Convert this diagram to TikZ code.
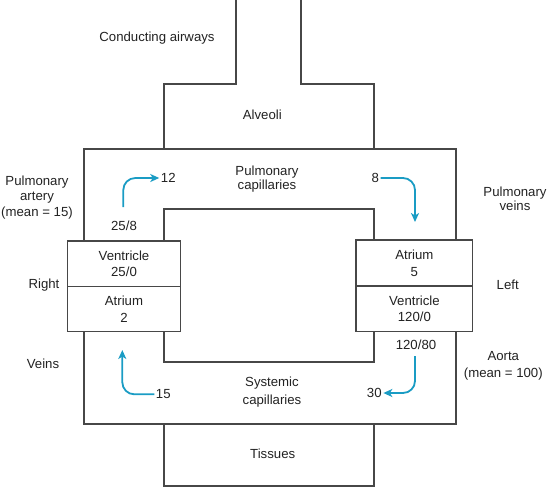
\documentclass[tikz,border=0pt]{standalone}
\usepackage{fontspec}
\setmainfont{Liberation Sans}
\usetikzlibrary{arrows.meta}
\definecolor{ln}{HTML}{474747}
\definecolor{flow}{HTML}{1A9CC4}
\definecolor{txt}{HTML}{222222}
\begin{document}
\begin{tikzpicture}[x=1pt,y=-1pt,
  wall/.style={draw=ln,line width=1.4pt},
  lbl/.style={font=\fontsize{13.2}{15.5}\selectfont,align=center,inner sep=0pt,text=txt},
  tight/.style={font=\fontsize{13.2}{13.8}\selectfont},
  wide/.style={font=\fontsize{13.2}{17.2}\selectfont},
  chamber/.style={draw=ln,line width=1.4pt,fill=white,inner sep=0pt,align=center,
    text=txt,font=\fontsize{13.2}{16.6}\selectfont,minimum height=45.5pt},
  flowarrow/.style={draw=flow,line width=1.8pt,rounded corners=12pt,
    -{Stealth[length=9pt,width=8pt,inset=2.5pt]}}
]
\useasboundingbox (0,0) rectangle (548,488);

% airways, alveoli, circulation loops, tissues
\draw[wall] (236,0) -- (236,84) -- (164,84) -- (164,149);
\draw[wall] (301,0) -- (301,84) -- (374,84) -- (374,149);
\draw[wall] (84,149) rectangle (456,424);
\draw[wall] (164,209) rectangle (374,362);
\draw[wall] (164,424) rectangle (374,486);

% heart chambers
\node[chamber,minimum width=113.4pt] (rvent) at (124,263.8) {Ventricle\\25/0};
\node[chamber,minimum width=113.4pt,minimum height=45pt] (ratr) at (124,309.1) {Atrium\\2};
\node[chamber,minimum width=116.7pt,minimum height=46pt] (latr) at (414.4,263) {Atrium\\5};
\node[chamber,minimum width=116.7pt] (lvent) at (414.4,308.9) {Ventricle\\120/0};

% labels
\node[lbl] (airways) at (157,38) {Conducting airways};
\node[lbl] (alveoli) at (262.3,115) {Alveoli};
\node[lbl,tight] (pcap) at (267,179) {Pulmonary\\capillaries};
\node[lbl] (partery) at (37,197.5) {Pulmonary\\artery\\(mean = 15)};
\node[lbl,tight] (pveins) at (515,198.7) {Pulmonary\\veins};
\node[lbl] (right) at (44,285) {Right};
\node[lbl] (left) at (507.7,284.5) {Left};
\node[lbl] (veins) at (43,363.3) {Veins};
\node[lbl,wide] (aorta) at (503.3,365.5) {Aorta\\(mean = 100)};
\node[lbl,wide] (scap) at (272,392) {Systemic\\capillaries};
\node[lbl] (tissues) at (272.7,453.3) {Tissues};

% pressure values
\node[lbl] (p258) at (124,226) {25/8};
\node[lbl] (p12) at (168.3,178) {12};
\node[lbl] (p8) at (375.3,178) {8};
\node[lbl] (p15) at (163.3,394.3) {15};
\node[lbl] (p30) at (374.3,393) {30};
\node[lbl] (p12080) at (416,345) {120/80};

% flow arrows
\coordinate (a1) at (123.3,207);
\coordinate (a2) at (415,222);
\coordinate (a3) at (122.3,350);
\coordinate (a4) at (415,356);
\draw[flowarrow,shorten >=1.5pt] (a1) |- (p12.west);
\draw[flowarrow,shorten <=1.5pt] (p8.east) -| (a2);
\draw[flowarrow,shorten <=1.5pt] (p15.west) -| (a3);
\draw[flowarrow,shorten >=1.5pt] (a4) |- (p30.east);
\end{tikzpicture}
\end{document}
